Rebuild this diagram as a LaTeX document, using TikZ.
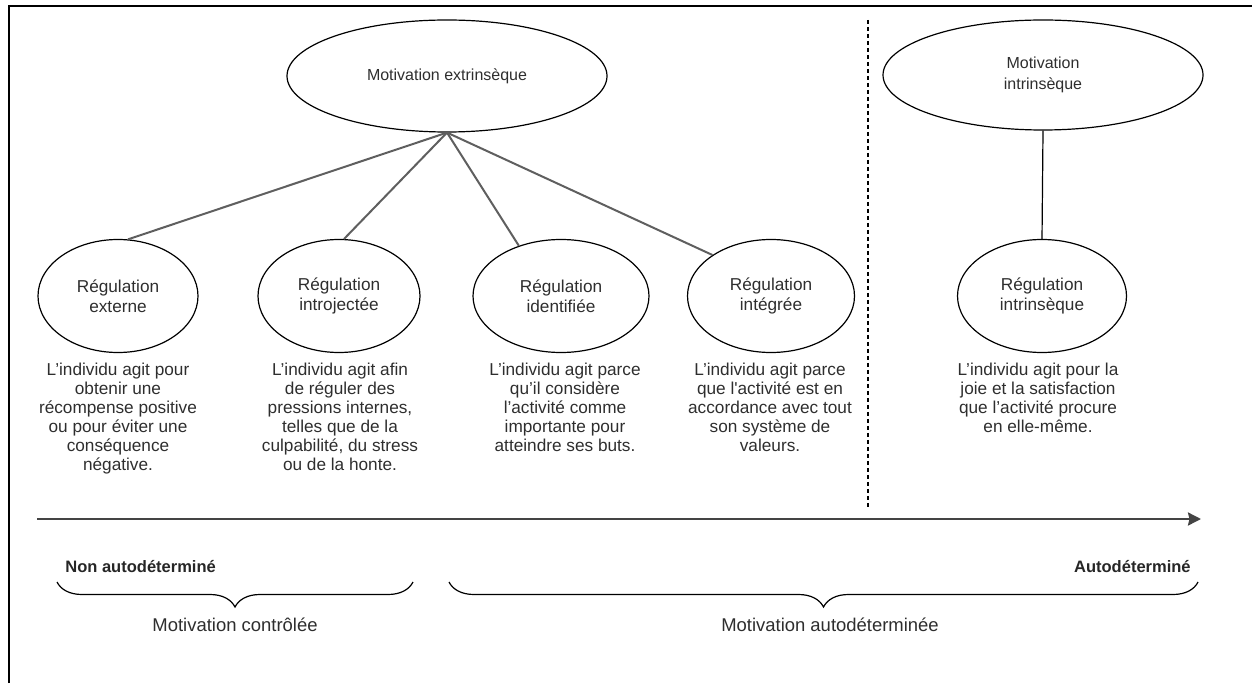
\documentclass[tikz,border=0pt]{standalone}
\usepackage{fontspec}
\setmainfont{Liberation Sans}
\usetikzlibrary{shapes.geometric,arrows.meta,decorations.pathreplacing}
\definecolor{txtgrey}{HTML}{2E2E2E}
\definecolor{linegrey}{HTML}{5F5F5F}
\definecolor{axisgrey}{HTML}{444444}

\begin{document}
\begin{tikzpicture}[
  bubble/.style={draw, ellipse, line width=0.024cm, inner sep=0pt, align=center,
    text=txtgrey, font=\fontsize{9.8}{11.4}\selectfont},
  desc/.style={anchor=north, align=center, inner sep=0pt, text=txtgrey,
    font=\fontsize{9.8}{10.8}\selectfont},
  branch/.style={draw=linegrey, line width=0.04cm},
  bracket/.style={decorate, decoration={brace, amplitude=0.5cm}, line width=0.024cm},
  endlabel/.style={inner sep=0pt, text=black!85, font=\fontsize{9.4}{11}\selectfont\bfseries},
  grouplabel/.style={inner sep=0pt, text=txtgrey, font=\fontsize{10.5}{12}\selectfont}
]
\useasboundingbox (0,0) rectangle (25.04,-13.66);
% frame
\draw[line width=0.04cm] (0.18,-13.66) -- (0.18,-0.12) -- (25.04,-0.12);

% top ellipses
\node[bubble, minimum width=6.4cm, minimum height=2.24cm, font=\fontsize{9.1}{12}\selectfont] (extr) at (8.94,-1.52) {Motivation extrinsèque};
\node[bubble, minimum width=6.4cm, minimum height=2.2cm, font=\fontsize{9.1}{12}\selectfont] (intrm) at (20.86,-1.50) {Motivation\\intrinsèque};

% regulations
\node[bubble, minimum width=3.2cm, minimum height=2.26cm] (externe) at (2.36,-5.92) {Régulation\\externe};
\node[bubble, minimum width=3.24cm, minimum height=2.26cm] (introj) at (6.78,-5.92) {Régulation\\introjectée};
\node[bubble, minimum width=3.52cm, minimum height=2.26cm] (identif) at (11.22,-5.92) {Régulation\\identifiée};
\node[bubble, minimum width=3.34cm, minimum height=2.26cm] (integr) at (15.42,-5.92) {Régulation\\intégrée};
\node[bubble, minimum width=3.38cm, minimum height=2.26cm] (intrreg) at (20.84,-5.92) {Régulation\\intrinsèque};

\draw[branch] (extr.south) -- (externe.80);
\draw[branch] (extr.south) -- (introj.85);
\draw[branch] (extr.south) -- (identif.130);
\draw[branch] (extr.south) -- (integr.145);
\draw[line width=0.024cm] (intrm.south) -- (intrreg.north);

% descriptions
\node[desc] (externedesc) at (2.36,-7.26) {L’individu agit pour\\obtenir une\\récompense positive\\ou pour éviter une\\conséquence\\négative.};
\node[desc] (introjdesc) at (6.80,-7.26) {L’individu agit afin\\de réguler des\\pressions internes,\\telles que de la\\culpabilité, du stress\\ou de la honte.};
\node[desc] (identifdesc) at (11.30,-7.26) {L’individu agit parce\\qu’il considère\\l’activité comme\\importante pour\\atteindre ses buts.};
\node[desc] (integrdesc) at (15.40,-7.26) {L’individu agit parce\\que l\textquotesingle activité est en\\accordance avec tout\\son système de\\valeurs.};
\node[desc] (intrregdesc) at (20.76,-7.26) {L’individu agit pour la\\joie et la satisfaction\\que l’activité procure\\en elle-même.};

% separation
\coordinate (splittop) at (17.36,-0.40);
\coordinate (splitbot) at (17.36,-10.16);
\draw[dash pattern=on 0.08cm off 0.06cm, line width=0.024cm] (splittop) -- (splitbot);

% continuum
\coordinate (axisstart) at (0.74,-10.38);
\coordinate (axisend) at (24.02,-10.38);
\draw[axisgrey, line width=0.05cm, -{Stealth[length=0.26cm,width=0.26cm,inset=0.03cm]}] (axisstart) -- (axisend);

\node[endlabel, anchor=west] (nonauto) at (1.30,-11.34) {Non autodéterminé};
\node[endlabel, anchor=east] (auto) at (23.82,-11.34) {Autodéterminé};

% braces
\coordinate (ctrlleft) at (1.14,-11.64);
\coordinate (ctrlright) at (8.26,-11.64);
\coordinate (autoleft) at (8.98,-11.64);
\coordinate (autoright) at (23.96,-11.64);
\draw[bracket] (ctrlright) -- (ctrlleft);
\draw[bracket] (autoright) -- (autoleft);

\node[grouplabel] (controlee) at (4.70,-12.50) {Motivation contrôlée};
\node[grouplabel] (autodet) at (16.60,-12.50) {Motivation autodéterminée};
\end{tikzpicture}
\end{document}
